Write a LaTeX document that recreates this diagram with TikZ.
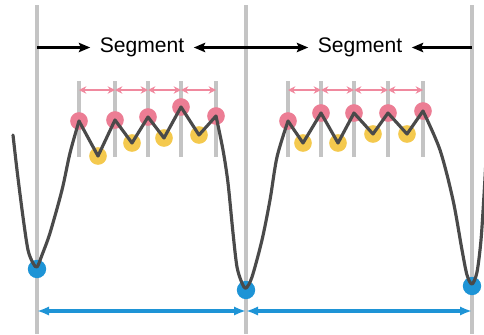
\documentclass[tikz,border=0pt]{standalone}
\usepackage{fontspec}
\setmainfont{Liberation Sans}
\usetikzlibrary{arrows.meta}
\definecolor{gridgrey}{HTML}{C4C4C4}
\definecolor{curvegrey}{HTML}{4A4A4A}
\definecolor{pk}{HTML}{EC7D94}
\definecolor{pkline}{HTML}{F0899E}
\definecolor{yl}{HTML}{F4C94E}
\definecolor{bl}{HTML}{1E94D6}
\tikzset{
  bigline/.style={draw=gridgrey, line width=3.2pt},
  smallline/.style={draw=gridgrey, line width=3pt},
  pinkdot/.style={circle, fill=pk, inner sep=0pt, minimum size=0.53cm},
  yellowdot/.style={circle, fill=yl, inner sep=0pt, minimum size=0.53cm},
  bluedot/.style={circle, fill=bl, inner sep=0pt, minimum size=0.55cm},
  segarrow/.style={draw=black, line width=2.3pt, -{Stealth[length=3.4mm,width=2.8mm,inset=0.6mm]}},
  pinkarrow/.style={draw=pkline, line width=1.8pt, {Stealth[length=2.2mm,width=2.2mm]}-{Stealth[length=2.2mm,width=2.2mm]}},
  bluearrow/.style={draw=bl, line width=2.8pt, {Latex[length=3.6mm,width=2.8mm]}-{Latex[length=3.6mm,width=2.8mm]}},
  curve/.style={draw=curvegrey, line width=2.7pt, line cap=round, line join=round},
  seglabel/.style={font=\fontsize{18}{20}\selectfont, inner xsep=8pt, inner ysep=0pt}
}
\begin{document}
\begin{tikzpicture}[x=0.03cm,y=-0.03cm]
\useasboundingbox (0,0) rectangle (484,334);
\clip (0,0) rectangle (484,334);
% big vertical lines
\coordinate (A) at (37,5);
\coordinate (B) at (246,5);
\coordinate (C) at (472,5);
\coordinate (Ab) at (37,334);
\coordinate (Bb) at (246,334);
\coordinate (Cb) at (472,334);
\draw[bigline] (A) -- (Ab);
\draw[bigline] (B) -- (Bb);
\draw[bigline] (C) -- (Cb);
% small vertical lines
\foreach \n/\x in {l1/79,l2/115,l3/148,l4/181,l5/216,r1/288,r2/321,r3/354,r4/388,r5/423}{
  \coordinate (\n t) at (\x,81);
  \coordinate (\n b) at (\x,157);
  \coordinate (\n a) at (\x,90);
  \draw[smallline] (\n t) -- (\n b);
}
% pink arrows
\draw[pinkarrow] (l1a) -- (l2a);
\draw[pinkarrow] (l2a) -- (l3a);
\draw[pinkarrow] (l3a) -- (l4a);
\draw[pinkarrow] (l4a) -- (l5a);
\draw[pinkarrow] (r1a) -- (r2a);
\draw[pinkarrow] (r2a) -- (r3a);
\draw[pinkarrow] (r3a) -- (r4a);
\draw[pinkarrow] (r4a) -- (r5a);
% segment labels
\node[seglabel] (s1) at (142,47.5) {Segment};
\node[seglabel] (s2) at (360,47.5) {Segment};
\draw[segarrow] (A |- s1) -- (s1.west);
\draw[segarrow] (B |- s1) -- (s1.east);
\draw[segarrow] (B |- s2) -- (s2.west);
\draw[segarrow] (C |- s2) -- (s2.east);
% blue arrows
\coordinate (ba) at (37,311);
\coordinate (bb) at (246,311);
\coordinate (bc) at (472,311);
\draw[bluearrow] (ba) -- (bb);
\draw[bluearrow] (bb) -- (bc);
% dots
\node[pinkdot] (p1) at (79,121) {};
\node[pinkdot] (p2) at (115,120) {};
\node[pinkdot] (p3) at (148,117) {};
\node[pinkdot] (p4) at (181,107) {};
\node[pinkdot] (p5) at (216,116) {};
\node[pinkdot] (p6) at (288,121) {};
\node[pinkdot] (p7) at (321,113) {};
\node[pinkdot] (p8) at (354,113) {};
\node[pinkdot] (p9) at (388,113) {};
\node[pinkdot] (p10) at (423,111) {};
\node[yellowdot] (y1) at (98,156) {};
\node[yellowdot] (y2) at (132,143) {};
\node[yellowdot] (y3) at (164,138) {};
\node[yellowdot] (y4) at (199,135) {};
\node[yellowdot] (y5) at (303,143) {};
\node[yellowdot] (y6) at (338,143) {};
\node[yellowdot] (y7) at (373,134) {};
\node[yellowdot] (y8) at (407,134) {};
\node[bluedot] (b1) at (37,269) {};
\node[bluedot] (b2) at (246,290) {};
\node[bluedot] (b3) at (472,286) {};
% curve
\draw[curve] plot[smooth, tension=0.5] coordinates {(13,135) (17,170) (23,217) (28,250) (33,263) (37,267) (42,255) (50,233) (62,190) (70,153) (79,121)};
\draw[curve] (p1.center) -- (y1.center) -- (p2.center) -- (y2.center) -- (p3.center) -- (y3.center) -- (p4.center) -- (y4.center) -- (p5.center);
\draw[curve] plot[smooth, tension=0.5] coordinates {(216,116) (223,150) (228,183) (233,233) (237,267) (242,283) (246,288) (252,277) (262,240) (270,200) (277,157) (288,121)};
\draw[curve] (p6.center) -- (y5.center) -- (p7.center) -- (y6.center) -- (p8.center) -- (y7.center) -- (p9.center) -- (y8.center) -- (p10.center);
\draw[curve] plot[smooth, tension=0.5] coordinates {(423,111) (440,150) (453,200) (462,250) (467,275) (472,284) (477,272) (481,240) (484,195) (486,160)};
\end{tikzpicture}
\end{document}
